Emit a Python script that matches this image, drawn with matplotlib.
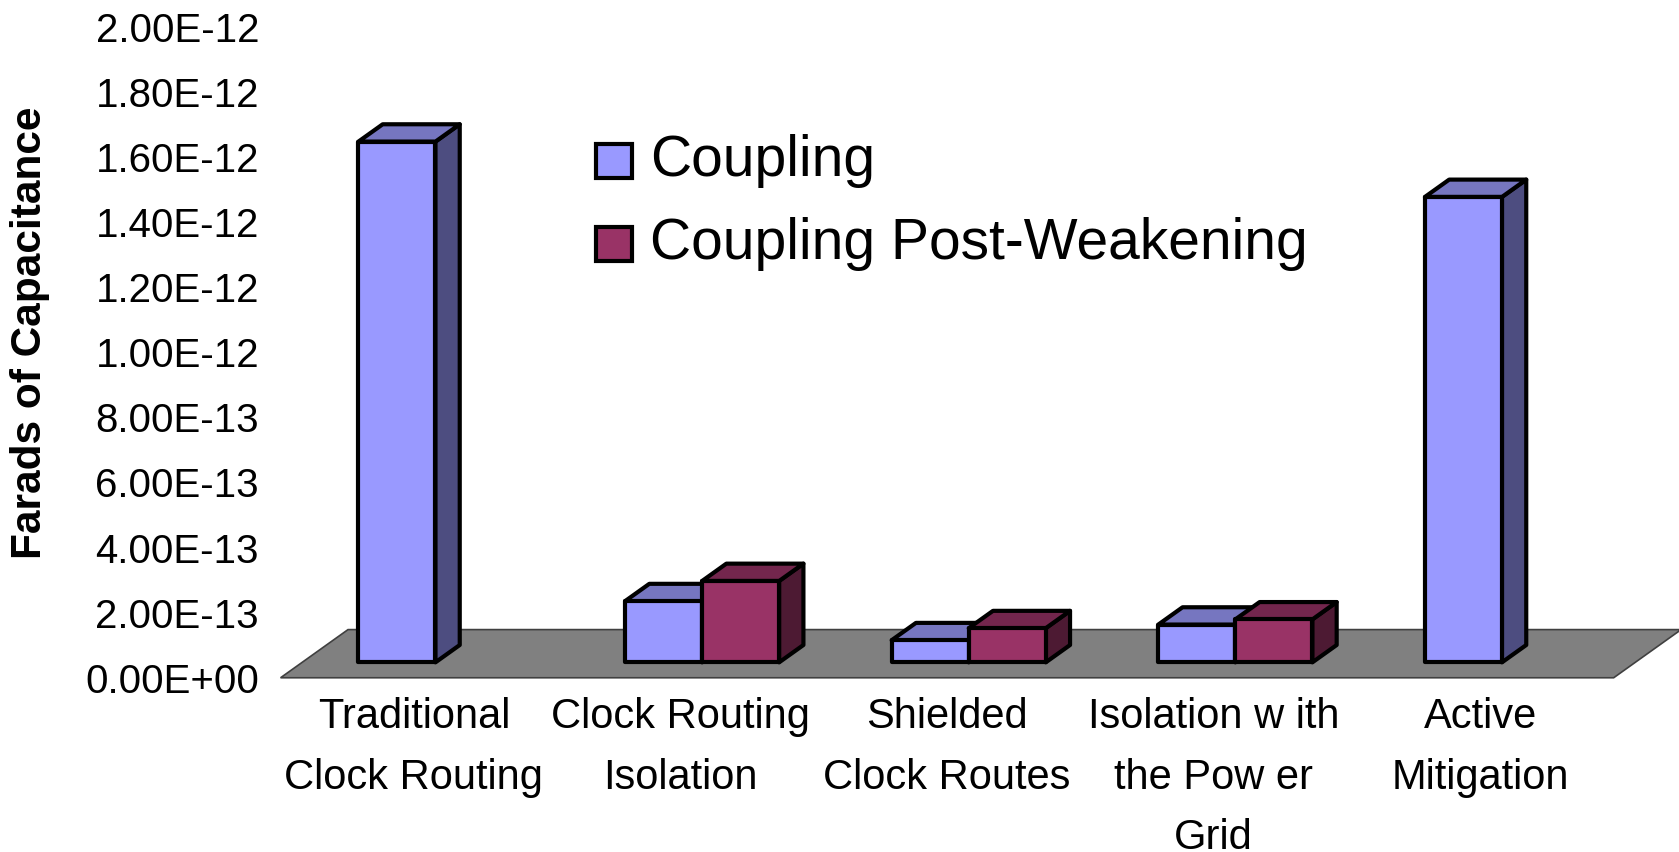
import numpy as np
import matplotlib
matplotlib.use("Agg")
import matplotlib.pyplot as plt
from matplotlib.patches import Polygon, Rectangle
from matplotlib.ticker import FuncFormatter

plt.rcParams['font.family'] = ['Liberation Sans', 'DejaVu Sans']

# data
categories = ["Traditional\nClock Routing", "Clock Routing\nIsolation", "Shielded\nClock Routes",
              "Isolation w ith\nthe Pow er\nGrid", "Active\nMitigation"]
coupling = [1.60e-12, 1.88e-13, 6.8e-14, 1.16e-13, 1.43e-12]
post_weak = [np.nan, 2.50e-13, 1.05e-13, 1.32e-13, np.nan]
series_names = ["Coupling", "Coupling Post-Weakening"]
yticks = np.arange(0, 2.01e-12, 2e-13)

# 3d look
floor_dx = 0.253        # depth offset of the floor, category units
floor_dy = 0.148e-12    # depth offset of the floor, value units
f0, f1 = 0.32, 0.68     # bars sit between these fractions of the depth
bar_w = 0.289
face = {"Coupling": ("#9999FF", "#7676C0", "#4D4D80"),
        "Coupling Post-Weakening": ("#993366", "#73264D", "#4D1A33")}
lw = 3.0

fig = plt.figure(figsize=(16.79, 8.52), dpi=100)
ax = fig.add_axes([0.1671, 0.2045, 0.794, 0.764])
ax.set_xlim(-0.5, 4.5)
ax.set_ylim(0, 2e-12)
for s in ax.spines.values():
    s.set_visible(False)

# floor
n = len(categories)
fx = [-0.5, n - 0.5, n - 0.5 + floor_dx, -0.5 + floor_dx]
fy = [0, 0, floor_dy, floor_dy]
ax.add_patch(Polygon(list(zip(fx, fy)), closed=True, facecolor="#808080",
                     edgecolor="#404040", lw=1.2, clip_on=False, zorder=1))

ox, oy = f0 * floor_dx, f0 * floor_dy
ddx, ddy = (f1 - f0) * floor_dx, (f1 - f0) * floor_dy


def draw_box(x_left, h, cols, z):
    front, top, side = cols
    xl = x_left + ox
    xr = xl + bar_w
    yb, yt = oy, oy + h
    ax.fill([xr, xr + ddx, xr + ddx, xr], [yb, yb + ddy, yt + ddy, yt],
            facecolor=side, edgecolor="black", lw=lw, joinstyle="round", clip_on=False, zorder=z)
    ax.fill([xl, xr, xr + ddx, xl + ddx], [yt, yt, yt + ddy, yt + ddy],
            facecolor=top, edgecolor="black", lw=lw, joinstyle="round", clip_on=False, zorder=z)
    ax.bar(xl, h, width=bar_w, bottom=yb, align="edge", color=front,
           edgecolor="black", lw=lw, joinstyle="round", clip_on=False, zorder=z)


z = 2
for i in range(n):
    if not np.isnan(coupling[i]):
        draw_box(i - bar_w, coupling[i], face[series_names[0]], z)
    z += 1
    if not np.isnan(post_weak[i]):
        draw_box(i, post_weak[i], face[series_names[1]], z)
    z += 1

ax.set_yticks(yticks)
ax.yaxis.set_major_formatter(FuncFormatter(lambda v, p: f"{v:.2E}"))
ax.tick_params(axis="y", length=0, pad=15.5, labelsize=29)
ax.set_xticks(range(n))
ax.set_xticklabels(categories, fontsize=30, linespacing=1.66)
ax.tick_params(axis="x", length=0, pad=14)

fig.text(30 / 1679, 1 - 333 / 852, "Farads of Capacitance", rotation=90,
         ha="center", va="center", fontsize=30.5, fontweight="bold")

# legend
for k, (name, yc) in enumerate(zip(series_names, [0.811, 0.7136])):
    fig.add_artist(Rectangle((0.355, yc - 0.0195), 0.0214, 0.039, transform=fig.transFigure,
                             facecolor=face[name][0], edgecolor="black", lw=3.0))
    fig.text(0.387, yc, name, ha="left", va="center", fontsize=41)

fig.savefig("out.png", dpi=100)
